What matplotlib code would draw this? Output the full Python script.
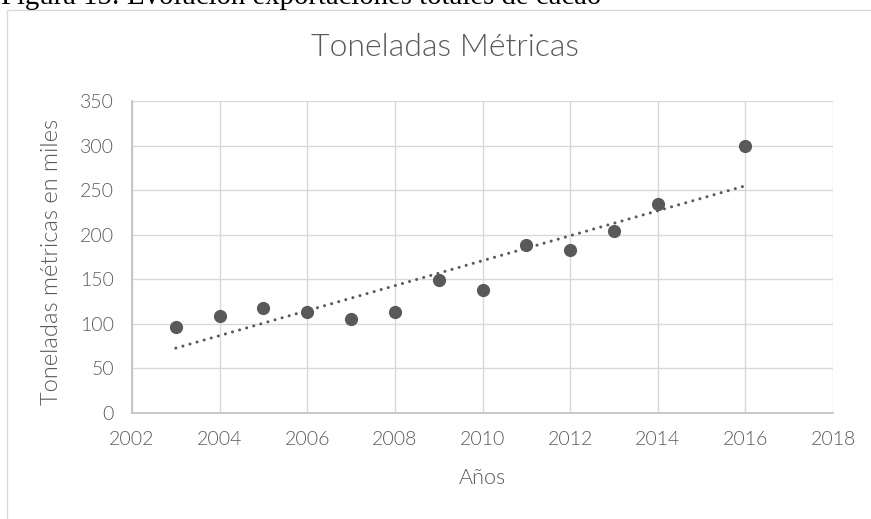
import numpy as np
import matplotlib
matplotlib.use("Agg")
import matplotlib.pyplot as plt
from matplotlib.patches import Rectangle

years = [2003, 2004, 2005, 2006, 2007, 2008, 2009, 2010, 2011, 2012, 2013, 2014, 2016]
tons = [97, 109, 118, 113, 106, 113, 149, 138, 189, 183, 204, 234, 300]
x_ticks = list(range(2002, 2019, 2))
y_ticks = list(range(0, 351, 50))

title = "Toneladas Métricas"
xlabel = "Años"
ylabel = "Toneladas métricas en miles"
caption = "Figura 15: Evolución exportaciones totales de cacao"

W, H = 871, 519
fig = plt.figure(figsize=(W / 100, H / 100), dpi=100)
fig.patch.set_facecolor("white")

txt = "#595959"
grid = "#d9d9d9"
font = ["Lato", "DejaVu Sans"]
wt = 300

# chart-area frame (extends past the cropped figure edge)
fig.add_artist(Rectangle((7 / W, -0.2), 1.2, 1.2 - 9.5 / H,
                         transform=fig.transFigure, fill=False,
                         edgecolor=grid, lw=1.0))

fig.text(1 / W, 1 - 4 / H, caption, family="Liberation Serif", fontsize=20.7,
         color="black", ha="left", va="baseline")

ax = fig.add_axes([132 / W, 1 - 413 / H, (833 - 132) / W, (413 - 101) / H])
ax.set_xlim(2002, 2018)
ax.set_ylim(0, 350)
ax.set_xticks(x_ticks)
ax.set_yticks(y_ticks)
ax.grid(True, color=grid, lw=1.0)
ax.set_axisbelow(True)
for s in ["top", "right"]:
    ax.spines[s].set_visible(False)
for s in ["left", "bottom"]:
    ax.spines[s].set_color("#bfbfbf")
    ax.spines[s].set_linewidth(1.2)
ax.tick_params(length=0, colors=txt, labelsize=14, pad=13)
for lab in ax.get_xticklabels() + ax.get_yticklabels():
    lab.set_family(font)
    lab.set_fontweight(wt)

# trend line
coef = np.polyfit(years, tons, 1)
xt = np.array([years[0], years[-1]])
ax.plot(xt, np.polyval(coef, xt), color=txt, lw=2.2,
        linestyle=(0, (0.01, 2.4)), dash_capstyle="round", zorder=2)

ax.plot(years, tons, "o", color=txt, markersize=9.5, markeredgewidth=0, zorder=3)

ax.set_xlabel(xlabel, family=font, fontweight=wt, fontsize=15.5, color=txt, va="center")
ax.xaxis.set_label_coords(0.5, (413 - 478) / 312)
ax.set_ylabel(ylabel, family=font, fontweight=wt, fontsize=17, color=txt, va="center")
ax.yaxis.set_label_coords((51 - 132) / 701, (413 - 261.5) / 312)

fig.text(445 / W, 1 - 47 / H, title, family=font, fontweight=wt, fontsize=23,
         color=txt, ha="center", va="center")

fig.savefig("out.png", dpi=100, facecolor="white")
